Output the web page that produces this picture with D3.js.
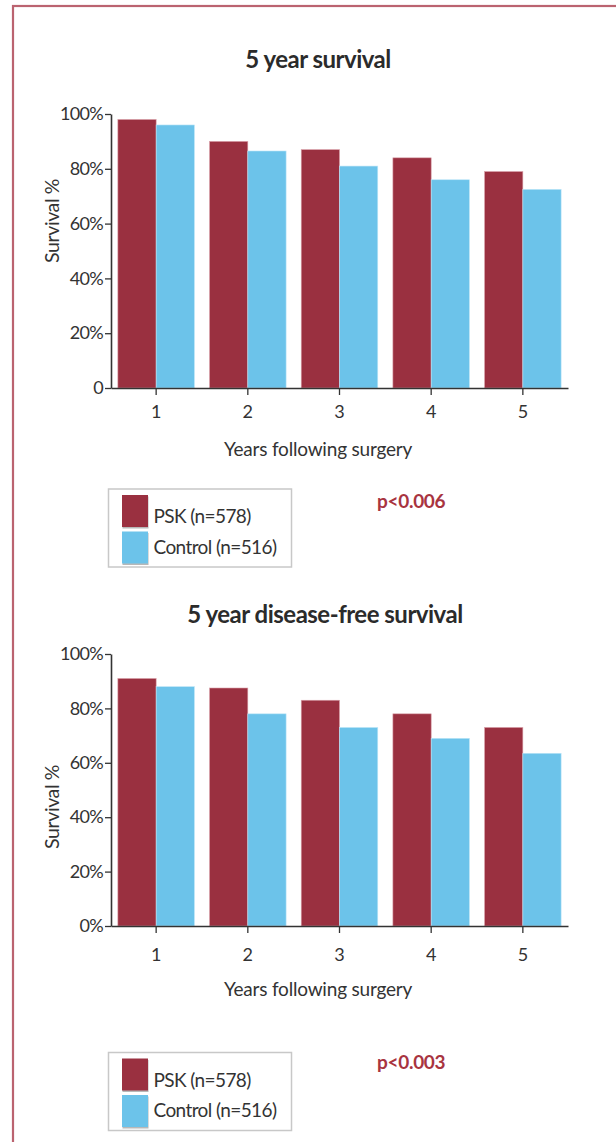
<!DOCTYPE html>
<html>
<head>
<meta charset="utf-8">
<script src="https://cdn.jsdelivr.net/npm/d3@7"></script>
<style>
  html, body { margin: 0; padding: 0; background: #fff; }
  svg { display: block; }
  text { font-family: Lato, "Open Sans", sans-serif; fill: #333; }
</style>
</head>
<body>
<svg id="chart" width="616" height="1142"></svg>
<script>
// ---- Data ----
const years = ["1", "2", "3", "4", "5"];
const seriesNames = ["PSK (n=578)", "Control (n=516)"];
const pskSurvival = [98, 90, 87, 84, 79];
const controlSurvival = [96, 86.5, 81, 76, 72.5];
const pskDiseaseFree = [91, 87.5, 83, 78, 73];
const controlDiseaseFree = [88, 78, 73, 69, 63.5];
const yTickValues = [0, 20, 40, 60, 80, 100];
const yTickLabelsTop = ["0", "20%", "40%", "60%", "80%", "100%"];
const yTickLabelsBottom = ["0%", "20%", "40%", "60%", "80%", "100%"];
const titles = ["5 year survival", "5 year disease-free survival"];
const pValues = ["p<0.006", "p<0.003"];

// ---- Styles ----
const colors = ["#9a3040", "#6cc3ea"];
const strokes = ["#d9a0a9", "#bfe6f7"];
const axisColor = "#333";
const pColor = "#a8343f";

const svg = d3.select("#chart");

// Frame
svg.append("rect")
  .attr("x", 13).attr("y", 6)
  .attr("width", 640).attr("height", 1160)
  .attr("fill", "none")
  .attr("stroke", "#bb6370")
  .attr("stroke-width", 2.2);

function panel(cfg) {
  const { psk, ctrl, yRange, xRange, tickLabels, title, titleX, titleY,
          xTickPad, xLabelY, yLabelY, legendY, pVal, pY } = cfg;

  const x0 = d3.scaleBand().domain(years).range(xRange)
    .paddingInner(0.165).paddingOuter(0.075);
  const x1 = d3.scaleBand().domain([0, 1]).range([0, x0.bandwidth()]).padding(0);
  const y = d3.scaleLinear().domain([0, 100]).range(yRange);

  const rows = years.map((yr, i) => ({ year: yr, values: [psk[i], ctrl[i]] }));

  // Title
  svg.append("text")
    .attr("x", titleX).attr("y", titleY)
    .attr("text-anchor", "middle")
    .attr("font-size", 24).attr("font-weight", 700)
    .attr("letter-spacing", -0.5)
    .style("fill", "#2b2b2b")
    .text(title);

  // Bars
  const g = svg.append("g");
  g.selectAll("g.grp").data(rows).join("g")
    .attr("class", "grp")
    .attr("transform", d => `translate(${x0(d.year)},0)`)
    .selectAll("rect").data(d => d.values.map((v, k) => ({ v, k }))).join("rect")
      .attr("x", d => x1(d.k))
      .attr("y", d => y(d.v))
      .attr("width", x1.bandwidth())
      .attr("height", d => y(0) - y(d.v))
      .attr("fill", d => colors[d.k])
      .attr("stroke", d => strokes[d.k])
      .attr("stroke-width", 0.6);

  // Y axis
  const yAxis = d3.axisLeft(y).tickValues(yTickValues)
    .tickFormat((d, i) => tickLabels[i]).tickSize(6).tickPadding(2).tickSizeOuter(0);
  const ya = svg.append("g").attr("transform", `translate(${xRange[0]},0)`).call(yAxis);
  ya.select(".domain").attr("stroke", axisColor).attr("stroke-width", 1.6);
  ya.selectAll(".tick line").attr("stroke", axisColor).attr("stroke-width", 1.3);
  ya.selectAll(".tick text").attr("font-size", 18).attr("letter-spacing", -0.7)
    .style("font-family", "Lato, sans-serif").style("fill", "#333");

  // X axis
  const xAxis = d3.axisBottom(x0).tickSize(7).tickPadding(xTickPad).tickSizeOuter(0);
  const xa = svg.append("g").attr("transform", `translate(0,${y(0)})`).call(xAxis);
  xa.select(".domain").attr("stroke", axisColor).attr("stroke-width", 1.6);
  xa.selectAll(".tick line").attr("stroke", axisColor).attr("stroke-width", 1.3);
  xa.selectAll(".tick text").attr("font-size", 18)
    .style("font-family", "Lato, sans-serif").style("fill", "#333");

  // Axis labels
  svg.append("text")
    .attr("x", 318).attr("y", xLabelY)
    .attr("text-anchor", "middle")
    .attr("font-size", 19).attr("letter-spacing", -0.2)
    .text("Years following surgery");

  svg.append("text")
    .attr("transform", `translate(59,${yLabelY}) rotate(-90)`)
    .attr("text-anchor", "middle")
    .attr("font-size", 19.5).attr("letter-spacing", -0.4)
    .text("Survival %");

  // Legend
  const lg = svg.append("g").attr("transform", `translate(108.5,${legendY})`);
  lg.append("rect")
    .attr("x", 0).attr("y", 0).attr("width", 183).attr("height", 78)
    .attr("fill", "#fff").attr("stroke", "#c8c8c8").attr("stroke-width", 1.5);
  seriesNames.forEach((name, k) => {
    const sy = 6 + k * 36.5;
    lg.append("rect").attr("x", 14).attr("y", sy + 1.5).attr("width", 26).attr("height", 32)
      .attr("fill", "#888").attr("opacity", 0.6);
    lg.append("rect").attr("x", 13.5).attr("y", sy).attr("width", 26).attr("height", 32)
      .attr("fill", colors[k]);
    lg.append("text").attr("x", 45).attr("y", k === 0 ? 34 : 64.5)
      .attr("font-size", 19).attr("letter-spacing", -0.6)
      .text(name);
  });

  // p value
  svg.append("text")
    .attr("x", 377).attr("y", pY)
    .attr("font-size", 19).attr("font-weight", 700)
    .attr("letter-spacing", -0.3)
    .style("fill", pColor)
    .text(pVal);
}

panel({
  psk: pskSurvival, ctrl: controlSurvival,
  yRange: [388, 114], xRange: [111, 568],
  tickLabels: yTickLabelsTop, title: titles[0], titleX: 318, titleY: 68,
  xTickPad: 10.5, xLabelY: 456, yLabelY: 221, legendY: 489,
  pVal: pValues[0], pY: 507.5
});

panel({
  psk: pskDiseaseFree, ctrl: controlDiseaseFree,
  yRange: [926, 654], xRange: [111, 568],
  tickLabels: yTickLabelsBottom, title: titles[1], titleX: 325, titleY: 623,
  xTickPad: 15.5, xLabelY: 995.5, yLabelY: 807, legendY: 1052.5,
  pVal: pValues[1], pY: 1068.5
});
</script>
</body>
</html>
